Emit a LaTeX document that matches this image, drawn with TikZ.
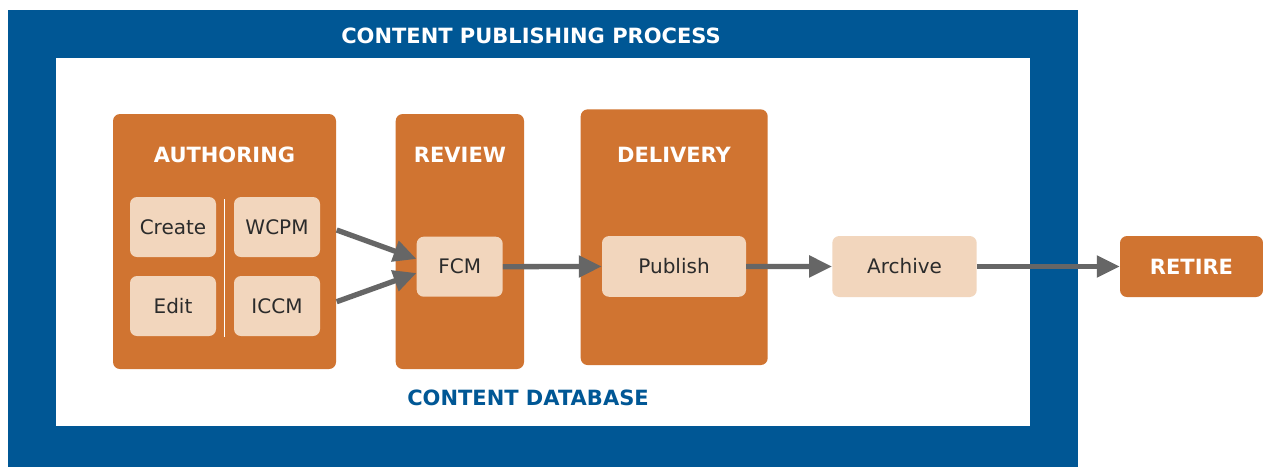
\documentclass[tikz,border=0pt]{standalone}
\usepackage{fontspec}
\setmainfont{DejaVu Sans}
\usetikzlibrary{arrows.meta,calc}
\definecolor{cpblue}{HTML}{005795}
\definecolor{cporange}{HTML}{D07431}
\definecolor{cppeach}{HTML}{F2D6BD}
\definecolor{cparrow}{HTML}{666666}
\definecolor{cptext}{HTML}{2B2B2B}
\tikzset{
  stage/.style={fill=cporange, rounded corners=7pt, inner sep=0pt},
  item/.style={fill=cppeach, rounded corners=7pt, inner sep=0pt, text=cptext,
    font=\fontsize{20}{24}\selectfont},
  boldlbl/.style={text=white, font=\fontsize{21}{25}\bfseries\selectfont, inner sep=0pt},
  arr/.style={draw=cparrow, line width=5.3pt, -{Triangle[length=23pt,width=21pt]}},
}
\begin{document}
\begin{tikzpicture}[x=1pt,y=-1pt]
\useasboundingbox (0,0) rectangle (1263,467);
\fill[white] (0,0) rectangle (1263,467);
% frame
\node[fill=cpblue, inner sep=0pt, minimum width=1070pt, minimum height=457pt] (frame) at (543,238.5) {};
\node[fill=white, inner sep=0pt, minimum width=974pt, minimum height=368pt] (db) at (543,242) {};
\node[boldlbl] (title) at (531,36) {CONTENT PUBLISHING PROCESS};
\node[boldlbl, text=cpblue] (dblbl) at (528,398) {CONTENT DATABASE};
% stages
\node[stage, minimum width=223pt, minimum height=255pt] (auth) at (224.5,241.5) {};
\node[stage, minimum width=128.3pt, minimum height=255pt] (rev) at (459.85,241.5) {};
\node[stage, minimum width=187pt, minimum height=255.7pt] (del) at (674.2,237.2) {};
\node[boldlbl] (authl) at (224.5,155) {AUTHORING};
\node[boldlbl] (revl) at (460,155) {REVIEW};
\node[boldlbl] (dell) at (674,155) {DELIVERY};
% items
\node[item, minimum width=86pt, minimum height=60pt] (create) at (173,227) {Create};
\node[item, minimum width=86pt, minimum height=60pt] (wcpm) at (277,227) {WCPM};
\node[item, minimum width=86pt, minimum height=60pt] (edit) at (173,306) {Edit};
\node[item, minimum width=86pt, minimum height=60pt] (iccm) at (277,306) {ICCM};
\coordinate (divtop) at (224.3,199);
\coordinate (divbot) at (224.3,337);
\draw[white, line width=1.6pt] (divtop) -- (divbot);
\node[item, minimum width=86pt, minimum height=60pt] (fcm) at (459.7,266.7) {FCM};
\node[item, minimum width=144pt, minimum height=60.7pt] (pub) at (674,266.4) {Publish};
\node[item, minimum width=144.4pt, minimum height=61pt] (arch) at (904.5,266.5) {Archive};
\node[stage, boldlbl, minimum width=143pt, minimum height=61pt] (ret) at (1191.5,266.5) {RETIRE};
% arrows
\coordinate (s1) at (336.7,230);
\coordinate (s2) at (336.7,301.7);
\draw[arr] (s1) -- ($(fcm.west)+(0,-7.7)$);
\draw[arr] (s2) -- ($(fcm.west)+(0,6.3)$);
\draw[arr] (fcm.east) -- (pub.west);
\draw[arr] (pub.east) -- (arch.west);
\draw[arr] (arch.east) -- (ret.west);
\end{tikzpicture}
\end{document}
